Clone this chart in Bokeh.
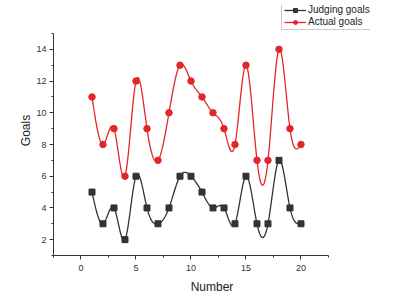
import numpy as np
from bokeh.plotting import figure
from bokeh.models import Range1d, Legend, LegendItem, FixedTicker
from bokeh.embed import file_html
from bokeh.resources import INLINE

number = list(range(1, 21))
judging = [5, 3, 4, 2, 6, 4, 3, 4, 6, 6, 5, 4, 4, 3, 6, 3, 3, 7, 4, 3]
actual = [11, 8, 9, 6, 12, 9, 7, 10, 13, 12, 11, 10, 9, 8, 13, 7, 7, 14, 9, 8]
x_ticks = [0, 5, 10, 15, 20]
y_ticks = [2, 4, 6, 8, 10, 12, 14]


def natural_spline(xs, ys, n=20):
    xs = np.asarray(xs, float)
    ys = np.asarray(ys, float)
    m = len(xs)
    h = np.diff(xs)
    A = np.zeros((m, m))
    b = np.zeros(m)
    A[0, 0] = 1
    A[-1, -1] = 1
    for i in range(1, m - 1):
        A[i, i - 1] = h[i - 1]
        A[i, i] = 2 * (h[i - 1] + h[i])
        A[i, i + 1] = h[i]
        b[i] = 6 * ((ys[i + 1] - ys[i]) / h[i] - (ys[i] - ys[i - 1]) / h[i - 1])
    M = np.linalg.solve(A, b)
    out_x, out_y = [], []
    for i in range(m - 1):
        t = np.linspace(xs[i], xs[i + 1], n, endpoint=(i == m - 2))
        a = xs[i + 1] - t
        c = t - xs[i]
        yv = (M[i] * a ** 3 + M[i + 1] * c ** 3) / (6 * h[i]) \
            + (ys[i] / h[i] - M[i] * h[i] / 6) * a \
            + (ys[i + 1] / h[i] - M[i + 1] * h[i] / 6) * c
        out_x.extend(t)
        out_y.extend(yv)
    return out_x, out_y


# frame extends beyond the drawn axes so the legend can sit above/right of them
p = figure(width=418, height=308, output_backend="svg", toolbar_location=None,
           x_range=Range1d(-2.5, 26.32), y_range=Range1d(1, 16.766),
           min_border_left=53, min_border_top=5, min_border_right=48, min_border_bottom=53)
p.frame_width = 317
p.frame_height = 250
p.outline_line_color = None
p.grid.visible = False
p.background_fill_color = "white"

black = "#333333"
red = "#e3262b"

jx, jy = natural_spline(number, judging)
ax_, ay_ = natural_spline(number, actual)
l1 = p.line(jx, jy, line_color=black, line_width=1.3)
s1 = p.scatter(number, judging, marker="square", size=6, fill_color=black, line_color=black)
l2 = p.line(ax_, ay_, line_color=red, line_width=1.3)
s2 = p.scatter(number, actual, marker="circle", size=6.5, fill_color=red, line_color=red)

p.xaxis.bounds = (-2.5, 22.5)
p.yaxis.bounds = (1, 15)
p.xaxis.ticker = FixedTicker(ticks=x_ticks, minor_ticks=[x + 2.5 for x in [-5] + x_ticks])
p.yaxis.ticker = FixedTicker(ticks=y_ticks, minor_ticks=[y + 1 for y in [0] + y_ticks])
for ax in (p.xaxis, p.yaxis):
    ax.axis_line_color = black
    ax.major_tick_line_color = black
    ax.minor_tick_line_color = black
    ax.major_tick_out = 4
    ax.major_tick_in = 0
    ax.minor_tick_out = 2
    ax.minor_tick_in = 0
    ax.major_label_text_font = "Liberation Sans"
    ax.major_label_text_font_size = "9px"
    ax.major_label_text_color = black
    ax.axis_label_text_font = "Liberation Sans"
    ax.axis_label_text_font_size = "12px"
    ax.axis_label_text_font_style = "normal"
    ax.axis_label_text_color = "#222222"
p.xaxis.major_label_standoff = 5
p.yaxis.major_label_standoff = 3
p.xaxis.axis_label_standoff = 6
p.yaxis.axis_label_standoff = 0
p.xaxis.axis_label = "Number"
p.yaxis.axis_label = "Goals"
p.yaxis.major_label_orientation = "horizontal"

legend = Legend(items=[LegendItem(label="Judging goals", renderers=[l1, s1]),
                       LegendItem(label="Actual goals", renderers=[l2, s2])],
                location=(228, 225), label_text_font="Liberation Sans",
                label_text_font_size="10px", label_text_color="#222222",
                glyph_height=10, glyph_width=22, label_height=10, label_standoff=2,
                spacing=1, padding=2, margin=0,
                border_line_color="#999999", background_fill_alpha=1)
p.add_layout(legend, "center")

open("out.html", "w").write(file_html(p, INLINE))
